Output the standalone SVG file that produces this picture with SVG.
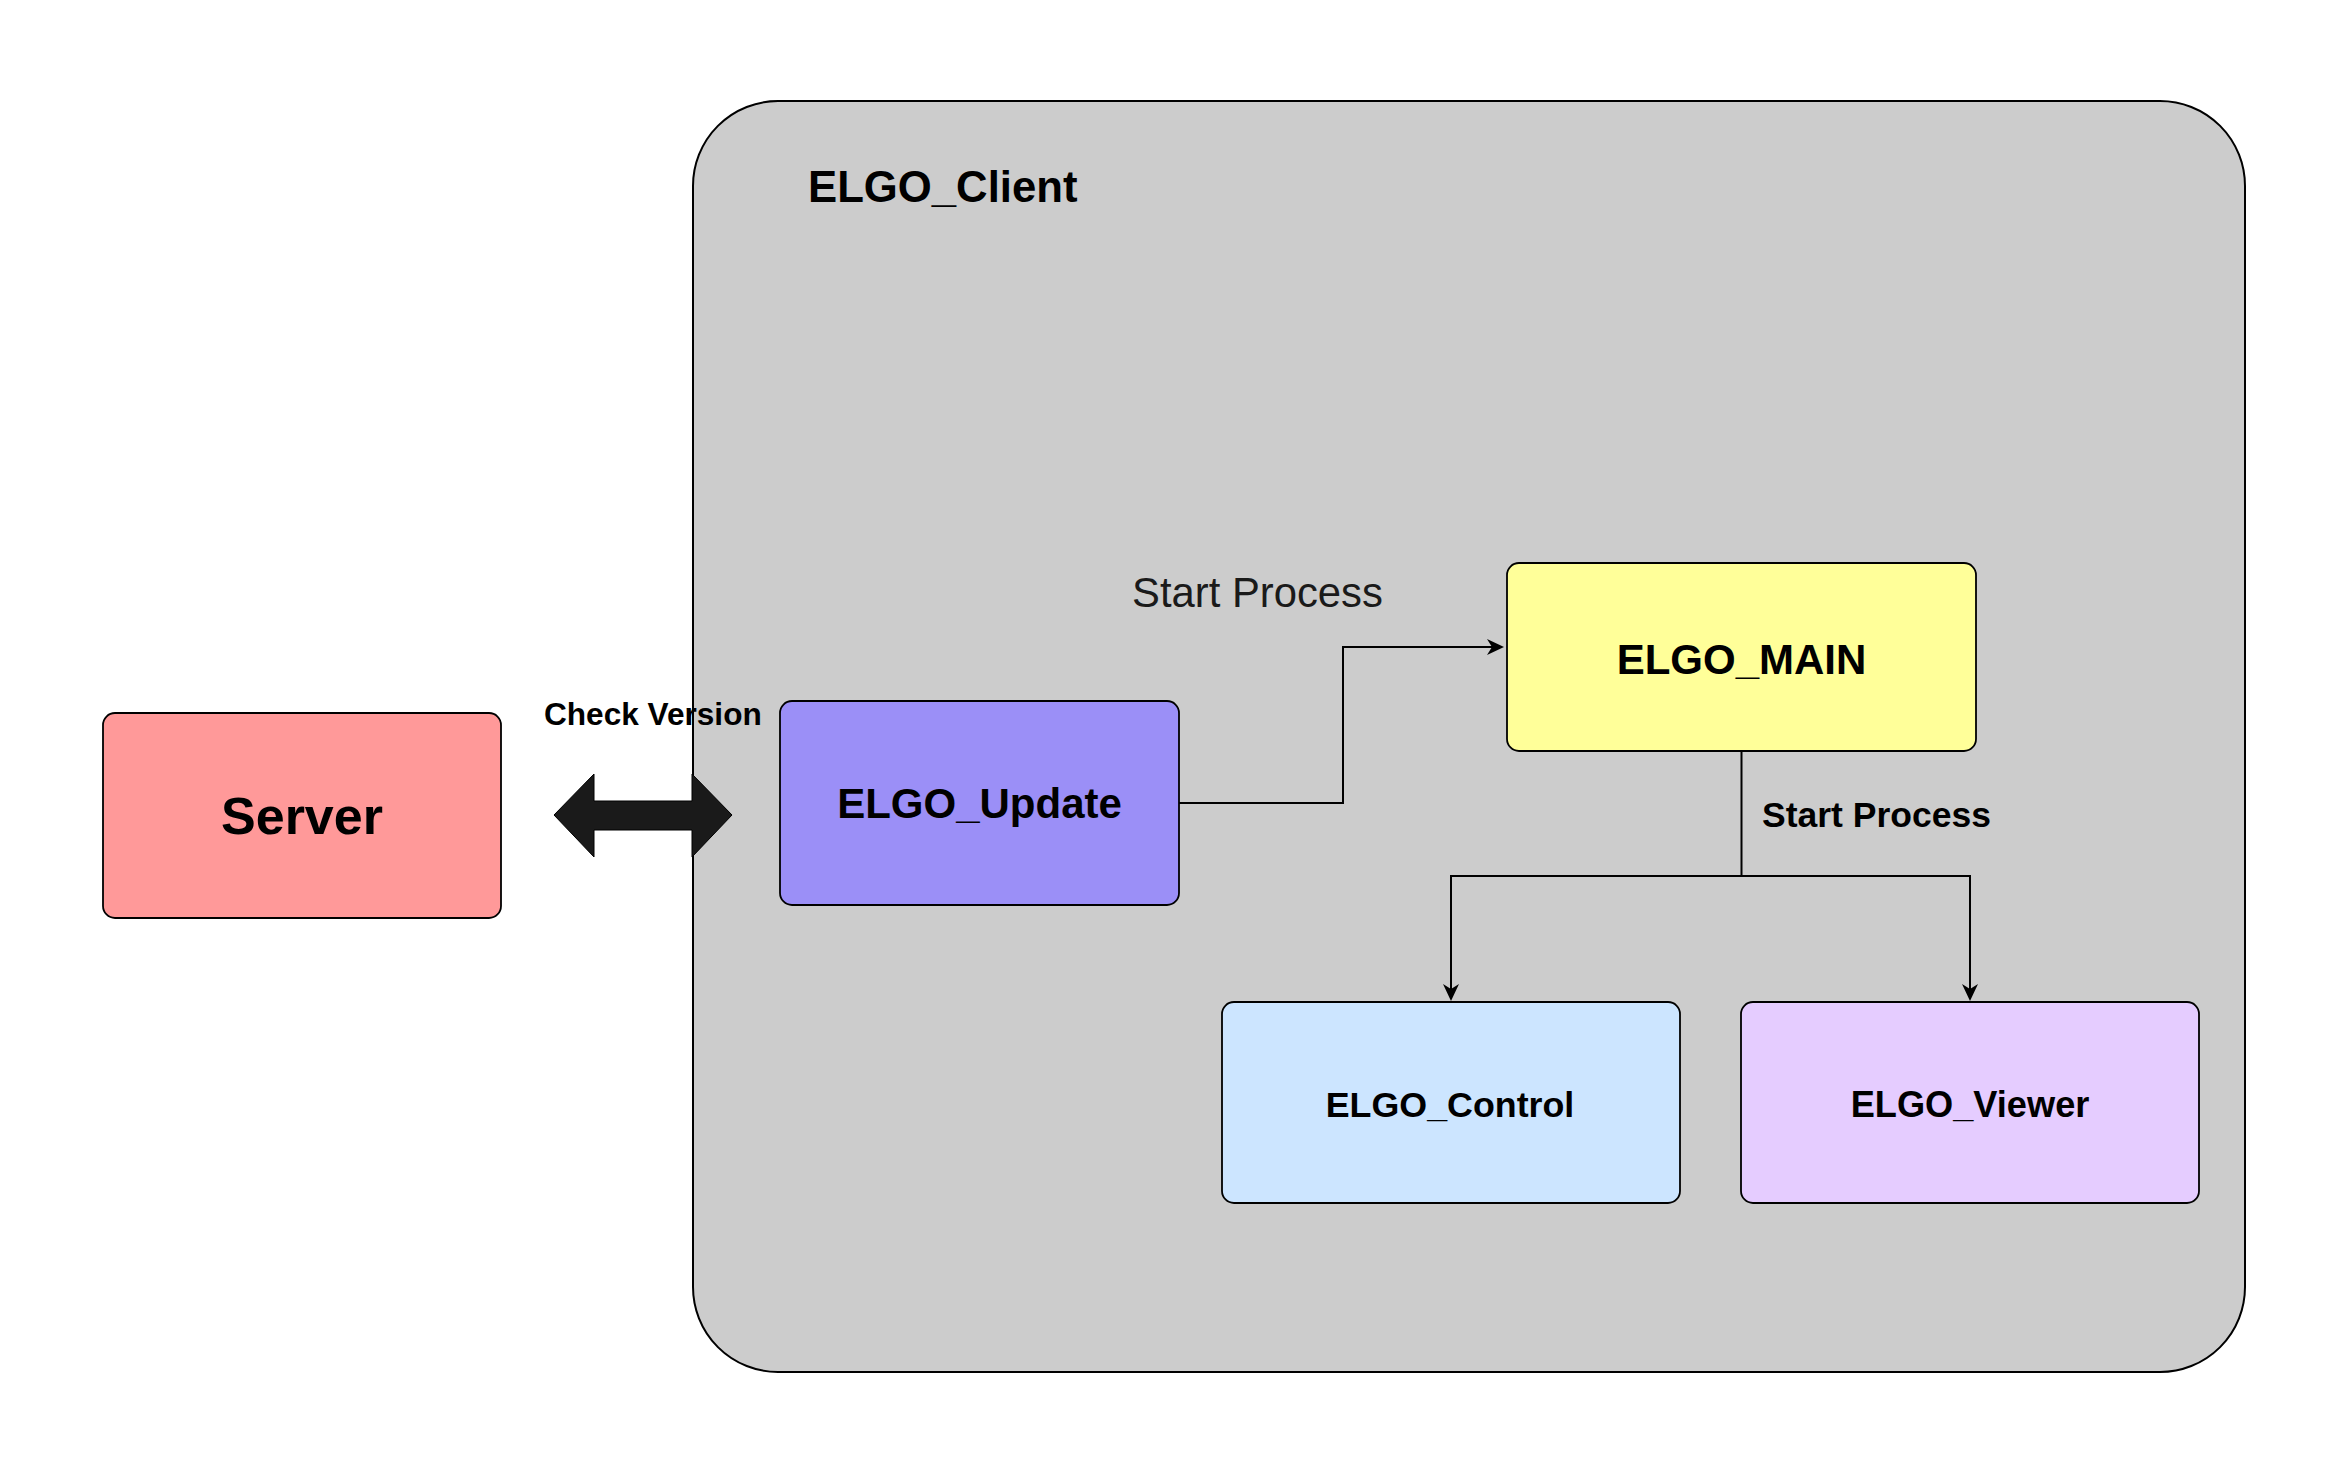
<svg xmlns="http://www.w3.org/2000/svg" width="2346" height="1474" viewBox="0 0 2346 1474">
  <style>
    .node { stroke: #000000; stroke-width: 1.8; }
    .lbl { font-family: "Liberation Sans", Arial, Helvetica, sans-serif; font-weight: bold; fill: #000000; }
    .reg { font-family: "Liberation Sans", Arial, Helvetica, sans-serif; fill: #1a1a1a; }
    .edge { fill: none; stroke: #000000; stroke-width: 2; }
  </style>
  <defs>
    <marker id="arrow" markerUnits="userSpaceOnUse" viewBox="0 0 17 16" markerWidth="17" markerHeight="16" refX="5" refY="8" orient="auto">
      <path d="M0,0 L17,8 L0,16 L5,8 Z" fill="#000000"/>
    </marker>
  </defs>
  <rect width="2346" height="1474" fill="#ffffff"/>

  <g id="elgo-client">
    <rect x="693" y="101" width="1552" height="1271" rx="85" ry="85" fill="#cccccc" stroke="#000000" stroke-width="2"/>
    <text class="lbl" x="808" y="202" font-size="43.7">ELGO_Client</text>
  </g>

  <g id="server">
    <rect class="node" x="103" y="713" width="398" height="205" rx="12" fill="#ff9999"/>
    <text class="lbl" x="302" y="834" font-size="52" text-anchor="middle">Server</text>
  </g>

  <g id="elgo-update">
    <rect class="node" x="780" y="701" width="399" height="204" rx="12" fill="#9b8ff7"/>
    <text class="lbl" x="979.5" y="818" font-size="42" text-anchor="middle">ELGO_Update</text>
  </g>

  <g id="elgo-main">
    <rect class="node" x="1507" y="563" width="469" height="188" rx="12" fill="#ffff99"/>
    <text class="lbl" x="1741.5" y="674" font-size="42" text-anchor="middle">ELGO_MAIN</text>
  </g>

  <g id="elgo-control">
    <rect class="node" x="1222" y="1002" width="458" height="201" rx="12" fill="#cce5ff"/>
    <text class="lbl" x="1450" y="1117" font-size="35.8" text-anchor="middle">ELGO_Control</text>
  </g>

  <g id="elgo-viewer">
    <rect class="node" x="1741" y="1002" width="458" height="201" rx="12" fill="#e5ccff"/>
    <text class="lbl" x="1970" y="1117" font-size="36.2" text-anchor="middle">ELGO_Viewer</text>
  </g>

  <g id="connectors">
    <polygon points="554,815 594,774 594,801 692,801 692,774 732,815 692,857 692,830 594,830 594,857" fill="#1a1a1a" stroke="#000000" stroke-width="1"/>
    <text class="lbl" x="544" y="725" font-size="31.6">Check Version</text>

    <path class="edge" d="M1179,803 H1343 V647 H1492" marker-end="url(#arrow)"/>
    <text class="reg" x="1132" y="607" font-size="41.8">Start Process</text>

    <path class="edge" d="M1741.5,751 V876 H1451 V989" marker-end="url(#arrow)"/>
    <path class="edge" d="M1741.5,876 H1970 V989" marker-end="url(#arrow)"/>
    <text class="lbl" x="1762" y="827" font-size="35.5">Start Process</text>
  </g>
</svg>
